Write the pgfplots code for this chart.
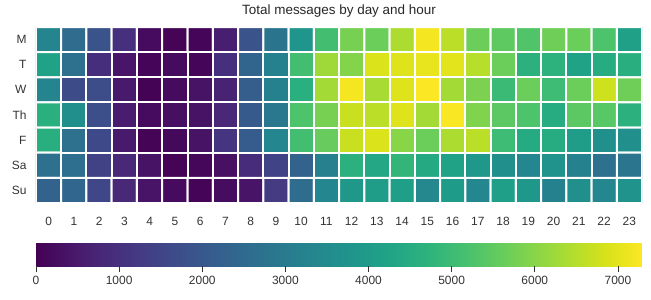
\documentclass[border=0pt]{standalone}
\usepackage{pgfplots}
\pgfplotsset{compat=1.18}
\usepackage{fontspec}
\setmainfont{Liberation Sans}
\begin{document}
\begin{tikzpicture}
\begin{axis}[
  name=hm,
  width=606bp, height=176bp, scale only axis,
  xmin=-0.5, xmax=23.5, ymin=-0.5, ymax=6.5,
  y dir=reverse,
  axis line style={draw=none},
  xtick={0,...,23},
  ytick={0,...,6},
  yticklabels={M,T,W,Th,F,Sa,Su},
  tick label style={font=\fontsize{12}{14}\selectfont, text=black!80},
  xticklabel style={yshift=-11bp},
  yticklabel style={xshift=-6bp},
  /pgf/number format/assume math mode=true,
  title={Total messages by day and hour},
  title style={font=\fontsize{13.5}{16}\selectfont, text=black!85},
  colormap/viridis,
  point meta min=0, point meta max=7290,
  colorbar horizontal,
  colorbar/width=23bp,
  colorbar shift/.style={},
  colorbar style={
    at={(parent axis.south west)}, anchor=north west, yshift=-40bp,
    width=606bp, height=23bp, scale only axis,
    xtick=\empty, ytick=\empty,
    axis line style={draw=none},
  },
]
\addplot[matrix plot*, mesh/cols=24, point meta=explicit, draw=white, line width=2bp] coordinates {
(0,0)[3300] (1,0)[2550] (2,0)[1850] (3,0)[1000] (4,0)[200] (5,0)[50] (6,0)[80] (7,0)[600] (8,0)[1850] (9,0)[2800] (10,0)[3800] (11,0)[5100] (12,0)[5800] (13,0)[5650] (14,0)[6400] (15,0)[7200] (16,0)[6550] (17,0)[5650] (18,0)[5500] (19,0)[5300] (20,0)[5700] (21,0)[5650] (22,0)[5250] (23,0)[4150]
(0,1)[4200] (1,1)[2700] (2,1)[950] (3,1)[400] (4,1)[100] (5,1)[200] (6,1)[100] (7,1)[1000] (8,1)[2350] (9,1)[3200] (10,1)[5100] (11,1)[6250] (12,1)[5950] (13,1)[6900] (14,1)[6950] (15,1)[7050] (16,1)[7000] (17,1)[6500] (18,1)[5650] (19,1)[4650] (20,1)[4700] (21,1)[4200] (22,1)[4500] (23,1)[4550]
(0,2)[3300] (1,2)[1650] (2,2)[1700] (3,2)[500] (4,2)[30] (5,2)[200] (6,2)[350] (7,2)[700] (8,2)[2150] (9,2)[3200] (10,2)[4600] (11,2)[6300] (12,2)[7200] (13,2)[6350] (14,2)[6950] (15,2)[7280] (16,2)[6300] (17,2)[5850] (18,2)[4950] (19,2)[5650] (20,2)[5000] (21,2)[5650] (22,2)[6750] (23,2)[5700]
(0,3)[4600] (1,3)[3650] (2,3)[1750] (3,3)[550] (4,3)[200] (5,3)[280] (6,3)[350] (7,3)[800] (8,3)[2050] (9,3)[2900] (10,3)[5250] (11,3)[5800] (12,3)[6700] (13,3)[6550] (14,3)[6950] (15,3)[6300] (16,3)[7250] (17,3)[5900] (18,3)[5450] (19,3)[5250] (20,3)[4500] (21,3)[5450] (22,3)[5400] (23,3)[4650]
(0,4)[4550] (1,4)[2700] (2,4)[1600] (3,4)[500] (4,4)[50] (5,4)[150] (6,4)[350] (7,4)[1100] (8,4)[2100] (9,4)[3350] (10,4)[5100] (11,4)[5600] (12,4)[6700] (13,4)[6900] (14,4)[6000] (15,4)[5650] (16,4)[6400] (17,4)[6550] (18,4)[5000] (19,4)[4450] (20,4)[4500] (21,4)[4050] (22,4)[3650] (23,4)[3600]
(0,5)[2700] (1,5)[2600] (2,5)[1400] (3,5)[800] (4,5)[350] (5,5)[50] (6,5)[120] (7,5)[300] (8,5)[900] (9,5)[1450] (10,5)[2300] (11,5)[3150] (12,5)[4650] (13,5)[4350] (14,5)[4800] (15,5)[4400] (16,5)[4200] (17,5)[3850] (18,5)[3650] (19,5)[3350] (20,5)[3750] (21,5)[3200] (22,5)[2700] (23,5)[2850]
(0,6)[2300] (1,6)[2400] (2,6)[1550] (3,6)[800] (4,6)[380] (5,6)[200] (6,6)[60] (7,6)[220] (8,6)[380] (9,6)[1250] (10,6)[2550] (11,6)[3350] (12,6)[3900] (13,6)[4050] (14,6)[4100] (15,6)[3400] (16,6)[4000] (17,6)[3350] (18,6)[4100] (19,6)[3850] (20,6)[3200] (21,6)[3600] (22,6)[3350] (23,6)[3750]
};
\end{axis}
\begin{axis}[
  at={(hm.south west)}, anchor=north west, yshift=-40bp,
  width=606bp, height=23bp, scale only axis,
  xmin=0, xmax=7290, ymin=0, ymax=1,
  axis line style={draw=none},
  ytick=\empty,
  xtick={0,1000,2000,3000,4000,5000,6000,7000},
  xtick pos=left, xticklabel pos=left,
  tick align=outside,
  major tick length=6bp,
  xtick style={draw=black!80, line width=0.8bp},
  xticklabel style={font=\fontsize{12}{14}\selectfont, text=black!80, yshift=-1bp},
  /pgf/number format/1000 sep={},
  /pgf/number format/assume math mode=true,
]
\end{axis}
\pgfresetboundingbox
\path[use as bounding box] ([xshift=-36bp,yshift=-97bp]hm.south west) rectangle ([xshift=9bp,yshift=27bp]hm.north east);
\end{tikzpicture}
\end{document}
